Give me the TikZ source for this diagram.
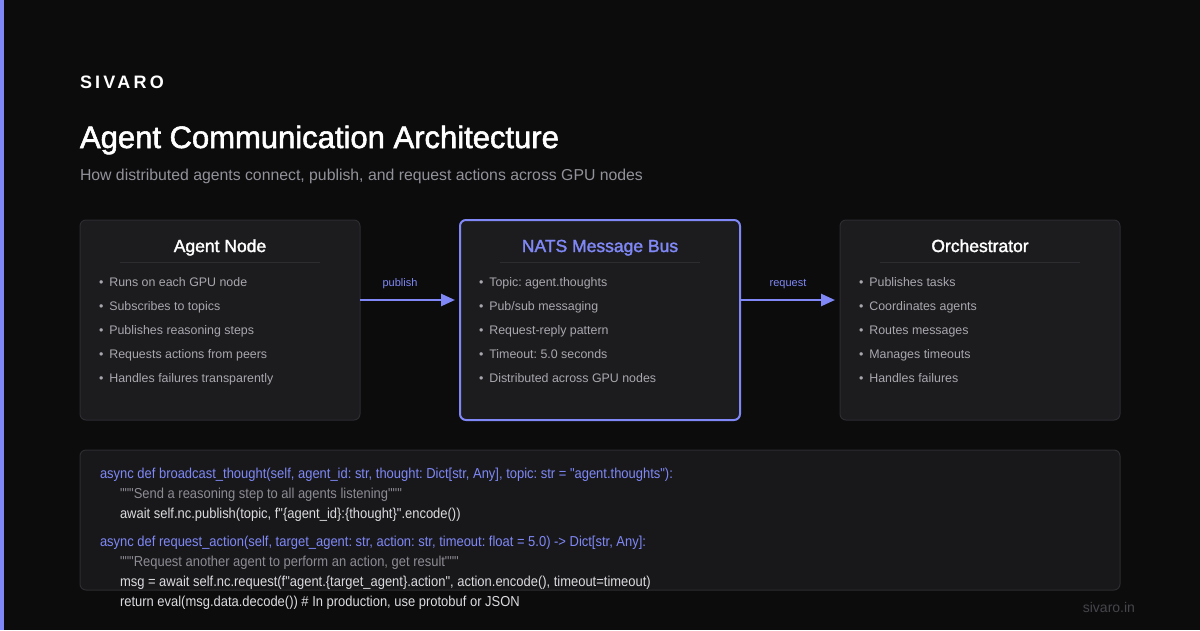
\documentclass[tikz,border=0pt]{standalone}
\usepackage{fontspec}
\setmainfont{Liberation Sans}
\newfontfamily\brandfont[LetterSpace=18]{Liberation Sans}
\newfontfamily\medfont[FakeBold=1.8]{Liberation Sans}
\newfontfamily\codefont[FakeStretch=0.9]{Liberation Sans}
\usetikzlibrary{arrows.meta,positioning,calc}

\definecolor{bg}{HTML}{0C0C0D}
\definecolor{cardbg}{HTML}{1C1C1F}
\definecolor{codebg}{HTML}{18181B}
\definecolor{edge}{HTML}{2C2C31}
\definecolor{accent}{HTML}{7F88F6}
\definecolor{itemgray}{HTML}{A8A8AE}
\definecolor{subgray}{HTML}{92929A}
\definecolor{codetext}{HTML}{DCDCE0}
\definecolor{docgray}{HTML}{8C8C93}
\definecolor{footgray}{HTML}{45454B}

\frenchspacing
\begin{document}
\begin{tikzpicture}[
  x=1pt, y=-1pt,
  every node/.style={inner sep=0pt, outer sep=0pt},
  card/.style={draw=edge, line width=1pt, fill=cardbg, rounded corners=6pt, minimum width=280pt, minimum height=200pt},
  hub/.style={card, draw=accent, line width=2pt},
  head/.style={anchor=base, text=white, font=\medfont\fontsize{17.5}{21}\selectfont},
  sep/.style={draw=edge, line width=1pt},
  item/.style={anchor=base west, text=itemgray, font=\fontsize{12.4}{15}\selectfont},
  lbl/.style={text=accent, font=\fontsize{11}{13}\selectfont},
  arr/.style={-{Triangle[length=14pt,width=12pt]}, draw=accent, line width=2.5pt, shorten >=5pt},
  code/.style={anchor=base west, font=\codefont\fontsize{14.4}{16}\selectfont},
]
\useasboundingbox (0,0) rectangle (1200,630);
\fill[bg] (0,0) rectangle (1200,630);
\fill[accent] (0,0) rectangle (4,630);

% header
\node[anchor=base west, text=white, font=\brandfont\bfseries\fontsize{18}{22}\selectfont] (brand) at (80,88) {SIVARO};
\node[anchor=base west, text=white, font=\medfont\fontsize{31}{37}\selectfont] (title) at (80,148) {Agent Communication Architecture};
\node[anchor=base west, text=subgray, font=\fontsize{15.8}{18}\selectfont] (subtitle) at (80,180) {How distributed agents connect, publish, and request actions across GPU nodes};

% three boxes
\node[card] (agent) at (220,320) {};
\node[hub] (nats) at (600,320) {};
\node[card] (orch) at (980,320) {};

\node[head] (agenthead) at ($(agent.north)+(0,32)$) {Agent Node};
\node[head, text=accent] (natshead) at ($(nats.north)+(0,32)$) {NATS Message Bus};
\node[head] (orchhead) at ($(orch.north)+(0,32)$) {Orchestrator};

\foreach \b in {agent,nats,orch}
  \draw[sep] ($(\b.north)+(-100,42)$) -- ($(\b.north)+(100,42)$);

\foreach \txt [count=\i] in {Runs on each GPU node, Subscribes to topics, Publishes reasoning steps, Requests actions from peers, Handles failures transparently}
  \node[item] (agent-\i) at ($(agent.north west)+(19,66+24*\i-24)$) {\textbullet\hspace{6pt}\txt};
\foreach \txt [count=\i] in {Topic: agent.thoughts, Pub/sub messaging, Request-reply pattern, Timeout: 5.0 seconds, Distributed across GPU nodes}
  \node[item] (nats-\i) at ($(nats.north west)+(19,66+24*\i-24)$) {\textbullet\hspace{6pt}\txt};
\foreach \txt [count=\i] in {Publishes tasks, Coordinates agents, Routes messages, Manages timeouts, Handles failures}
  \node[item] (orch-\i) at ($(orch.north west)+(19,66+24*\i-24)$) {\textbullet\hspace{6pt}\txt};

% connectors
\coordinate (pubstart) at ($(agent.east)+(0,-20)$);
\coordinate (reqstart) at ($(nats.east)+(0,-20)$);
\draw[arr] (pubstart) -- (pubstart -| nats.west);
\draw[arr] (reqstart) -- (reqstart -| orch.west);
\node[lbl] (publbl) at (400,284) {publish};
\node[lbl] (reqlbl) at (788,284) {request};

% code sample
\node[draw=edge, line width=1pt, fill=codebg, rounded corners=6pt, minimum width=1040pt, minimum height=140pt] (code) at (600,520) {};
\node[code, text=accent] (c1) at (100,478) {async def broadcast\_thought(self, agent\_id: str, thought: Dict[str, Any], topic: str = "agent.thoughts"):};
\node[code, text=docgray] (c2) at (120,498) {"""Send a reasoning step to all agents listening"""};
\node[code, text=codetext] (c3) at (120,518) {await self.nc.publish(topic, f"\{agent\_id\}:\{thought\}".encode())};
\node[code, text=accent] (c4) at (100,546) {async def request\_action(self, target\_agent: str, action: str, timeout: float = 5.0) -> Dict[str, Any]:};
\node[code, text=docgray] (c5) at (120,566) {"""Request another agent to perform an action, get result"""};
\node[code, text=codetext] (c6) at (120,586) {msg = await self.nc.request(f"agent.\{target\_agent\}.action", action.encode(), timeout=timeout)};
\node[code, text=codetext] (c7) at (120,606) {return eval(msg.data.decode()) \# In production, use protobuf or JSON};

\node[anchor=base east, text=footgray, font=\fontsize{14}{17}\selectfont] (foot) at (1135,612) {sivaro.in};
\end{tikzpicture}
\end{document}
